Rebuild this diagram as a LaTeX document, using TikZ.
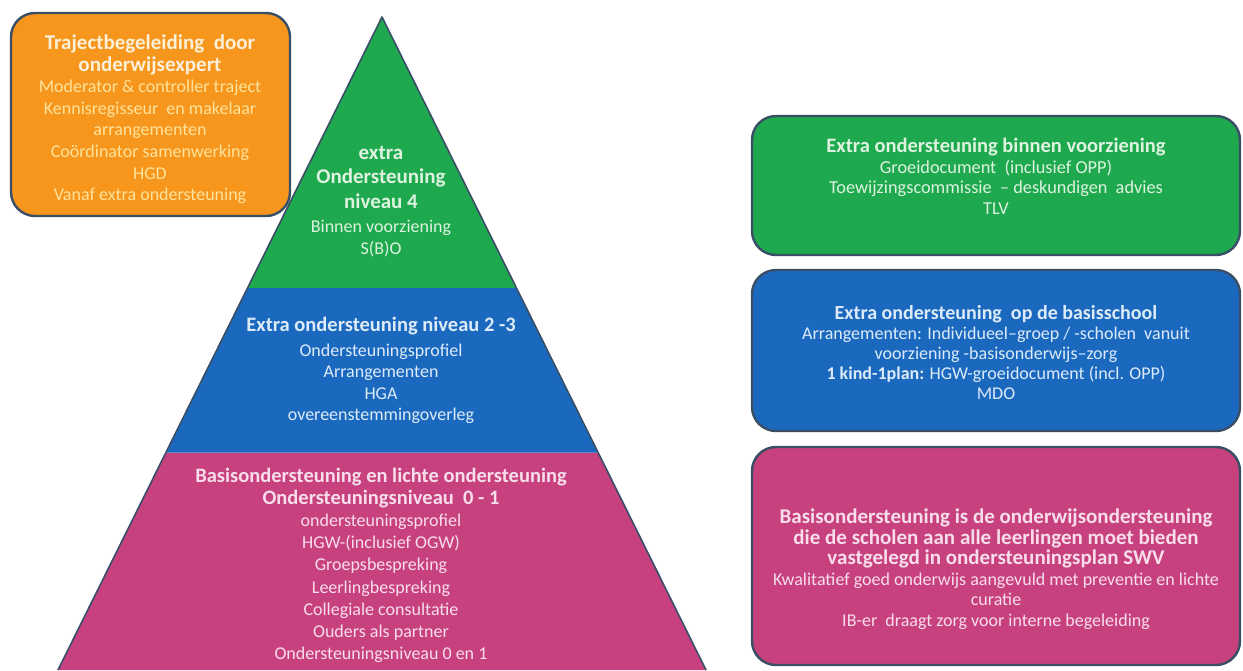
\documentclass[tikz,border=0pt]{standalone}
\usepackage{fontspec}
\setmainfont{Carlito}
\usetikzlibrary{calc}
\definecolor{cOrange}{HTML}{F7961C}
\definecolor{cGreen}{HTML}{1EA94F}
\definecolor{cBlue}{HTML}{1B69BF}
\definecolor{cPink}{HTML}{C8417F}
\definecolor{cEdge}{HTML}{3A4E66}
\definecolor{tOrangeB}{HTML}{FBF1DA}
\definecolor{tOrange}{HTML}{FFE39C}
\definecolor{tGreen}{HTML}{DDF3DF}
\definecolor{tBlue}{HTML}{DDEBF8}
\definecolor{tPink}{HTML}{F8DDEB}
\newcommand{\B}[1]{\fontsize{#1}{#1}\selectfont\bfseries}
\begin{document}
\begin{tikzpicture}[x=1pt,y=-1pt,
  sidebox/.style={draw=cEdge,line width=2.4pt,rounded corners=24pt},
  layer/.style={draw=cEdge,line width=1.6pt,line join=round},
  txt/.style={align=center,inner sep=0pt,anchor=north}]
\useasboundingbox (0,0) rectangle (1243,670);
\fill[white] (0,0) rectangle (1243,670);
% pyramid
\coordinate (apex) at (382,17);
\coordinate (bl) at (58,670);
\coordinate (br) at (706,670);
\coordinate (gl) at ($(apex)!0.415!(bl)$);
\coordinate (gr) at ($(apex)!0.415!(br)$);
\coordinate (ul) at ($(apex)!0.667!(bl)$);
\coordinate (ur) at ($(apex)!0.667!(br)$);
\fill[cPink] (ul) -- (ur) -- (br) -- (bl) -- cycle;
\fill[cBlue] (gl) -- (gr) -- (ur) -- (ul) -- cycle;
\fill[cGreen] (apex) -- (gr) -- (gl) -- cycle;
\draw[layer] (bl) -- (apex) -- (br);
% pyramid texts
\node[txt,text=tGreen,font=\fontsize{18}{24.5}\selectfont] (pg) at (381,146) {\B{21}extra\\\B{21}Ondersteuning\\\B{21}niveau 4\\Binnen voorziening\\[-3pt]S(B)O};
\node[txt,text=tBlue,font=\fontsize{18}{21.5}\selectfont] (pb) at (381,317) {\B{20.5}Extra ondersteuning niveau 2 -3\\[3pt]Ondersteuningsprofiel\\Arrangementen\\HGA\\overeenstemmingoverleg};
\node[txt,text=tPink,font=\fontsize{18}{22.1}\selectfont] (pp) at (381,468) {\B{20.5}Basisondersteuning en lichte ondersteuning\\\B{20.5}Ondersteuningsniveau\ \ 0 - 1\\ondersteuningsprofiel\\HGW-(inclusief OGW)\\Groepsbespreking\\Leerlingbespreking\\Collegiale consultatie\\Ouders als partner\\Ondersteuningsniveau 0 en 1};
% orange box
\draw[sidebox,fill=cOrange] (11,13) rectangle (290,216);
\node[txt,text=tOrange,font=\fontsize{18}{21.6}\selectfont] (ob) at (150,34.5) {\color{tOrangeB}\B{21}Trajectbegeleiding\ \ door\\\color{tOrangeB}\B{21}onderwijsexpert\\Moderator \& controller traject\\Kennisregisseur\ \ en makelaar\\arrangementen\\Coördinator samenwerking\\HGD\\Vanaf extra ondersteuning};
% right boxes
\draw[sidebox,fill=cGreen] (752,116) rectangle (1240,255);
\node[txt,text=tGreen,font=\fontsize{18.3}{20.7}\selectfont] (rg) at (996,138) {\B{20.5}Extra ondersteuning binnen voorziening\\Groeidocument\ \ (inclusief OPP)\\Toewijzingscommissie\ \ -- deskundigen\ \ advies\\TLV};
\draw[sidebox,fill=cBlue] (752,270) rectangle (1240,431);
\node[txt,text=tBlue,font=\fontsize{18}{20}\selectfont] (rb) at (996,305) {\B{20}Extra ondersteuning\ \ op de basisschool\\Arrangementen: Individueel--groep / -scholen\ \ vanuit\\voorziening -basisonderwijs--zorg\\\textbf{1 kind-1plan:} HGW-groeidocument (incl. OPP)\\MDO};
\draw[sidebox,fill=cPink] (752,447) rectangle (1240,665);
\node[txt,text=tPink,font=\fontsize{18}{20.6}\selectfont] (rp) at (996,508.5) {\B{21}Basisondersteuning is de onderwijsondersteuning\\\B{21}die de scholen aan alle leerlingen moet bieden\\\B{21}vastgelegd in ondersteuningsplan SWV\\Kwalitatief goed onderwijs aangevuld met preventie en lichte\\curatie\\IB-er\ \ draagt zorg voor interne begeleiding};
\end{tikzpicture}
\end{document}
